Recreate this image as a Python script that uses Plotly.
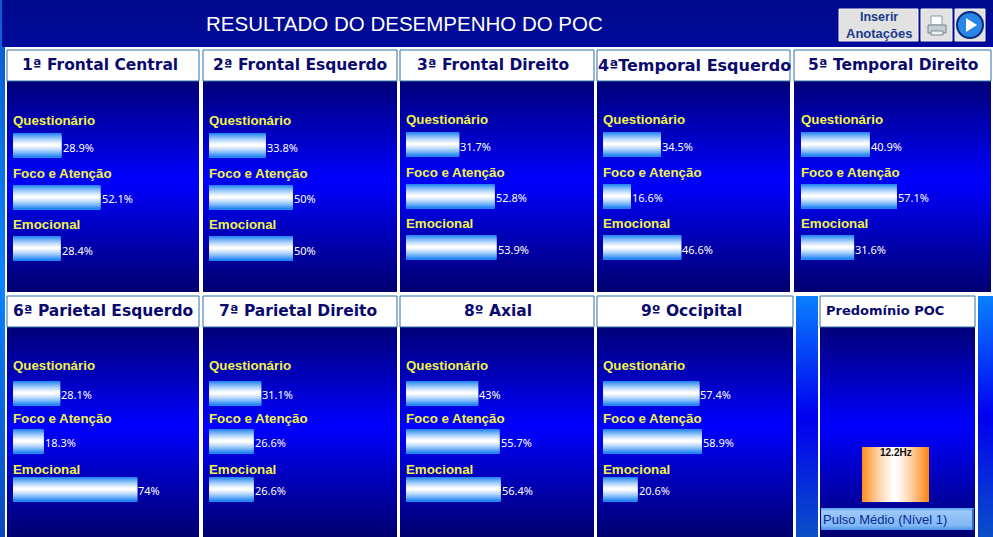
import plotly.graph_objects as go

W, H = 993, 537

# ---------- data ----------
categories = ["Questionário", "Foco e Atenção", "Emocional"]
panel_names = ["1ª Frontal Central", "2ª Frontal Esquerdo", "3ª Frontal Direito",
               "4ªTemporal Esquerdo", "5ª Temporal Direito", "6ª Parietal Esquerdo",
               "7ª Parietal Direito", "8º Axial", "9º Occipital"]
questionario = [28.9, 33.8, 31.7, 34.5, 40.9, 28.1, 31.1, 43, 57.4]
foco_atencao = [52.1, 50, 52.8, 16.6, 57.1, 18.3, 26.6, 55.7, 58.9]
emocional = [28.4, 50, 53.9, 46.6, 31.6, 74, 26.6, 56.4, 20.6]
predominio_hz = 12.2
predominio_label = "Pulso Médio (Nível 1)"
title_text = "RESULTADO DO DESEMPENHO DO POC"

# ---------- layout constants (pixels) ----------
PANEL_X = [(7, 199), (203, 397), (400, 594), (597, 790), (794, 991),
           (7, 199), (203, 397), (400, 594), (597, 793)]
TITLE_CX = [100, 300, 493, 694, 893, 103, 298, 498, 691]
TITLE_SIZE = [15.5, 15.5, 15.5, 16, 15.5, 15.5, 15.5, 15.5, 15.5]
BAR_LEFT = [13, 209, 406, 603, 801, 13, 209, 406, 603]
ROW1 = dict(head=50, top=81, bot=292, unit=51.5, bar=24, label=[26, 24.5, 25], vshift=-1)
ROW2 = dict(head=296, top=327, bot=537, unit=48, bar=24, label=[29, 24, 21], vshift=0)
C0 = [146, 146, 145, 145, 145, 394, 394, 394, 394]
PX_PER_PCT = 1.68

NAVY = [[0, "#000078"], [0.47, "#0000ff"], [1, "#000070"]]
STRIP = [[0, "#0a5cd0"], [0.5, "#0a84ff"], [1, "#0a46c0"]]
STRIP2 = [[0, "#0a80ff"], [0.5, "#0000f0"], [1, "#0a50c8"]]
TOPBAND = [[0, "#000a8c"], [1, "#000a9c"]]

fig = go.Figure()


def grad(l, r, t, b, scale, step=2):
    n = max(1, int((b - t) / step))
    ys = [t + (b - t) * i / n for i in range(n + 1)]
    z = [[(i + 0.5) / n] for i in range(n)]
    fig.add_trace(go.Heatmap(x=[l, r], y=ys, z=z, zmin=0, zmax=1, colorscale=scale,
                             showscale=False, hoverinfo="skip", xaxis="x", yaxis="y"))


def mix(t, c1=(0x18, 0x80, 0xf4), c2=(255, 255, 255)):
    t = t ** 1.3
    return "rgb(%d,%d,%d)" % tuple(round(a + (b - a) * (1 - t)) for a, b in zip(c1, c2))


# background
grad(0, W, 0, 47, TOPBAND)
grad(2, 5, 47, H, STRIP)
grad(0, 1.5, 0, H, STRIP)
grad(796, 818, 296, H, STRIP2)
grad(978, W, 296, H, STRIP2)
for i, (l, r) in enumerate(PANEL_X):
    row = ROW1 if i < 5 else ROW2
    grad(l, r, row["top"], row["bot"], NAVY)
grad(820, 975, 327, H, NAVY)
grad(821, 974, 508, 530, [[0, "#5a9ef0"], [0.15, "#9cc8fa"], [0.8, "#80b8f6"], [1, "#4c90e8"]], step=1)

shapes = []
annots = []


def bx(l, t, r, b, fill, line=None, lw=1, path=None):
    s = dict(type="rect", xref="x", yref="y", x0=l, x1=r, y0=t, y1=b, fillcolor=fill,
             line=dict(color=line or fill, width=lw if line else 0), layer="above")
    shapes.append(s)


def txt(x, y, s, size, color, family, bold=False, anchor="left"):
    annots.append(dict(x=x, y=y, xref="x", yref="y", text=f"<b>{s}</b>" if bold else s,
                       showarrow=False, xanchor=anchor, yanchor="middle",
                       font=dict(size=size, color=color, family=family)))


# white rule + panel headers
for i, (l, r) in enumerate(PANEL_X):
    row = ROW1 if i < 5 else ROW2
    bx(l, row["head"], r, row["top"], "#ffffff", "#2f6ea6", 1)
    txt(TITLE_CX[i], (row["head"] + row["top"]) / 2 - 0.5, panel_names[i], TITLE_SIZE[i], "#0a0a6e",
        "DejaVu Sans", True, "center")
bx(820, 296, 975, 327, "#ffffff", "#2f6ea6", 1)
txt(824, 310, "Predomínio POC", 13, "#0a0a6e", "DejaVu Sans", True)

# title + buttons
txt(204, 23, title_text, 20.5, "#ffffff", "Liberation Sans")
bx(839, 9, 918, 41, "#e2e2e2", "#f4f4f4", 1)
txt(878.5, 17, "Inserir", 12.5, "#1c3a8c", "Liberation Sans", True, "center")
txt(878.5, 33, "Anotações", 13, "#1c3a8c", "Liberation Sans", True, "center")
bx(921, 9, 952, 41, "#e2e2e2", "#f4f4f4", 1)
bx(931, 16, 942, 25, "#ffffff", "#8a9aa8", 1)
bx(928, 25, 946, 33, "#c4ccd0", "#7a8890", 1)
bx(931, 31, 943, 35, "#f0f0f0", "#7a8890", 1)
bx(955, 9, 985, 41, "#e2e2e2", "#f4f4f4", 1)
shapes.append(dict(type="circle", xref="x", yref="y", x0=957, x1=983, y0=12, y1=38,
                   fillcolor="#2a86e6", line=dict(color="#0a2a80", width=2), layer="above"))
shapes.append(dict(type="path", xref="x", yref="y", path="M 966 18 L 977 25 L 966 32 Z",
                   fillcolor="#ffffff", line=dict(width=0), layer="above"))

# pulse label edge and text
bx(972, 509, 974, 530, "#2a6cd0")
txt(821, 519, predominio_label, 13, "#0a2a90", "Liberation Sans")

# ---------- panel bars ----------
layout_axes = {}
for i in range(9):
    row = ROW1 if i < 5 else ROW2
    vals = [questionario[i], foco_atencao[i], emocional[i]]
    n = i + 2
    xname, yname = f"xaxis{n}", f"yaxis{n}"
    left = BAR_LEFT[i]
    layout_axes[xname] = dict(domain=[left / W, (left + 100 * PX_PER_PCT) / W], range=[0, 100],
                              visible=False, fixedrange=True, anchor=f"y{n}")
    u = row["unit"]
    layout_axes[yname] = dict(domain=[1 - row["bot"] / H, 1 - row["top"] / H],
                              range=[(row["bot"] - C0[i]) / u, (row["top"] - C0[i]) / u],
                              visible=False, fixedrange=True, anchor=f"x{n}")
    h = row["bar"]
    xs, ys, cs = [], [], []
    for c, v in enumerate(vals):
        for k in range(h):
            off = k + 0.5 - h / 2
            xs.append(v)
            ys.append(c + off / u)
            cs.append(mix(abs(off) / (h / 2)))
    fig.add_trace(go.Bar(x=xs, y=ys, orientation="h", width=1.15 / u, marker=dict(color=cs, line=dict(width=0)),
                         xaxis=f"x{n}", yaxis=f"y{n}", hoverinfo="skip", showlegend=False))
    for c, v in enumerate(vals):
        annots.append(dict(x=0, y=c, xref=f"x{n}", yref=f"y{n}", text=f"<b>{categories[c]}</b>",
                           showarrow=False, xanchor="left", yanchor="middle", yshift=row["label"][c], xshift=-2,
                           font=dict(size=13.3, color="#f2f24a", family="Liberation Sans")))
        annots.append(dict(x=v, y=c, xref=f"x{n}", yref=f"y{n}", text=f"{v:g}%",
                           showarrow=False, xanchor="left", yanchor="middle", yshift=row["vshift"], xshift=-1,
                           font=dict(size=11, color="#ffffff", family="Noto Sans")))

# ---------- predominance bar ----------
n = 11
PL, PR, PT, PB = 862, 929, 447, 502
HZ_PX = (PB - PT) / predominio_hz
layout_axes[f"xaxis{n}"] = dict(domain=[PL / W, PR / W], range=[0, PR - PL], visible=False, fixedrange=True, anchor=f"y{n}")
layout_axes[f"yaxis{n}"] = dict(domain=[1 - PB / H, 1 - 327 / H], range=[0, (PB - 327) / HZ_PX], visible=False,
                                fixedrange=True, anchor=f"x{n}")
cols = PR - PL
xs = [k + 0.5 for k in range(cols)]
cs = [mix(abs(k + 0.5 - cols / 2) / (cols / 2), (0xff, 0x86, 0x14)) for k in range(cols)]
fig.add_trace(go.Bar(x=xs, y=[predominio_hz] * cols, width=1.15, marker=dict(color=cs, line=dict(width=0)),
                     xaxis=f"x{n}", yaxis=f"y{n}", hoverinfo="skip", showlegend=False))
annots.append(dict(x=cols / 2, y=predominio_hz, xref=f"x{n}", yref=f"y{n}", text=f"<b>{predominio_hz:g}Hz</b>",
                   showarrow=False, xanchor="center", yanchor="top", yshift=2,
                   font=dict(size=10, color="#101010", family="Liberation Sans")))

fig.update_layout(
    width=W, height=H, autosize=False, margin=dict(l=0, r=0, t=0, b=0, pad=0),
    paper_bgcolor="#ffffff", plot_bgcolor="rgba(0,0,0,0)", showlegend=False, barmode="overlay",
    xaxis=dict(domain=[0, 1], range=[0, W], visible=False, fixedrange=True),
    yaxis=dict(domain=[0, 1], range=[H, 0], visible=False, fixedrange=True),
    shapes=shapes, annotations=annots, **layout_axes,
)
fig.write_html("out.html", config=dict(displayModeBar=False, responsive=False),
               post_script="document.body.style.margin='0';")
